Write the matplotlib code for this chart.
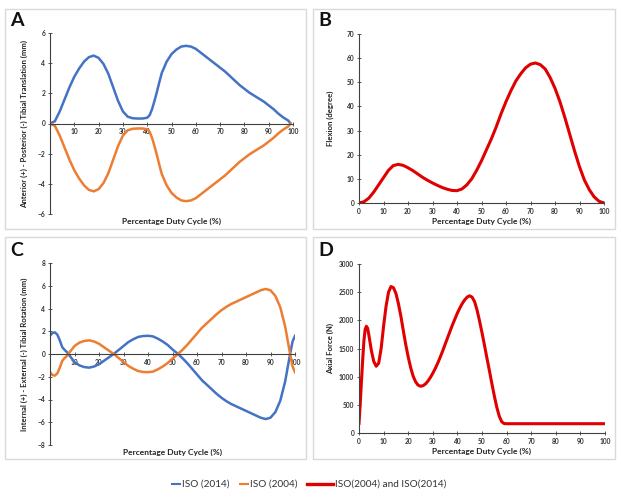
import matplotlib
matplotlib.use("Agg")
import matplotlib.pyplot as plt
from matplotlib.patches import Rectangle
from matplotlib.lines import Line2D

plt.rcParams['font.family'] = ['Lato', 'DejaVu Sans']

BLUE = '#4472C4'
ORANGE = '#ED7D31'
RED = '#E00000'

# ---------- Panel A: AP translation ----------
a_x = [0, 2, 4, 6, 8, 10, 12, 14, 16, 18, 20, 22, 24, 26, 28, 30, 32, 34, 36, 38, 40, 41, 42, 43, 44,
       45, 46, 48, 50, 52, 54, 56, 58, 60, 62, 64, 66, 68, 70, 72, 74, 76, 78, 80, 82, 84, 86, 88,
       90, 92, 94, 96, 97, 98, 99]
a_iso2014 = [0, 0.15, 0.8, 1.6, 2.4, 3.1, 3.65, 4.1, 4.4, 4.5, 4.35, 3.95, 3.3, 2.4, 1.5, 0.8, 0.45,
             0.35, 0.33, 0.33, 0.38, 0.55, 0.95, 1.5, 2.1, 2.75, 3.35, 4.1, 4.6, 4.9, 5.1, 5.15,
             5.1, 4.95, 4.7, 4.45, 4.2, 3.95, 3.7, 3.45, 3.15, 2.85, 2.55, 2.3, 2.05, 1.85, 1.65,
             1.45, 1.2, 0.95, 0.65, 0.4, 0.3, 0.2, 0]
a_iso2004 = [0, -0.15, -0.8, -1.6, -2.4, -3.1, -3.65, -4.1, -4.4, -4.5, -4.35, -3.95, -3.3, -2.4,
             -1.5, -0.8, -0.45, -0.35, -0.33, -0.33, -0.38, -0.55, -0.95, -1.5, -2.1, -2.75, -3.35,
             -4.1, -4.6, -4.9, -5.1, -5.15, -5.1, -4.95, -4.7, -4.45, -4.2, -3.95, -3.7, -3.45,
             -3.15, -2.85, -2.55, -2.3, -2.05, -1.85, -1.65, -1.45, -1.2, -0.95, -0.65, -0.4,
             -0.3, -0.2, 0]

# ---------- Panel B: flexion ----------
b_x = [0, 2, 4, 6, 8, 10, 12, 14, 16, 18, 20, 22, 24, 26, 28, 30, 32, 34, 36, 38, 40, 42, 44, 46,
       48, 50, 52, 54, 56, 58, 60, 62, 64, 66, 68, 70, 72, 74, 76, 78, 80, 82, 84, 86, 88, 90, 92,
       94, 96, 98, 100]
b_flexion = [0, 0.5, 2, 4.5, 7.5, 10.5, 13.5, 15.5, 16, 15.6, 14.6, 13.4, 12, 10.6, 9.4, 8.3, 7.3,
             6.4, 5.7, 5.2, 5.1, 5.8, 7.5, 10, 13.5, 17.5, 22, 26.5, 31.5, 37, 42, 46.5, 50.5, 53.5,
             56, 57.5, 58, 57.3, 55.5, 52, 47.5, 42, 35.5, 28.5, 21.5, 15, 9.5, 5.5, 2.5, 0.7, 0]

# ---------- Panel C: IE rotation ----------
c_x = [0, 1, 2, 3, 4, 5, 6, 7, 8, 10, 12, 14, 16, 18, 20, 22, 24, 26, 28, 30, 32, 34, 36, 38, 40,
       42, 44, 46, 48, 50, 52, 54, 56, 58, 60, 62, 64, 66, 68, 70, 72, 74, 76, 78, 80, 82, 84, 86,
       88, 90, 92, 94, 96, 97, 98, 99, 100]
c_iso2014 = [1.6, 1.85, 1.9, 1.7, 1.2, 0.6, 0.35, 0.15, -0.15, -0.7, -1.0, -1.15, -1.2, -1.1, -0.9,
             -0.6, -0.3, 0, 0.35, 0.7, 1.05, 1.3, 1.5, 1.58, 1.6, 1.55, 1.35, 1.1, 0.8, 0.4, 0.05,
             -0.35, -0.8, -1.3, -1.8, -2.3, -2.7, -3.1, -3.5, -3.85, -4.15, -4.4, -4.6, -4.8, -5.0,
             -5.2, -5.4, -5.6, -5.72, -5.6, -5.1, -4.1, -2.4, -1.2, 0, 1.1, 1.6]
c_iso2004 = [-1.6, -1.85, -1.9, -1.7, -1.2, -0.6, -0.35, -0.15, 0.15, 0.7, 1.0, 1.15, 1.2, 1.1, 0.9,
             0.6, 0.3, 0, -0.35, -0.7, -1.05, -1.3, -1.5, -1.58, -1.6, -1.55, -1.35, -1.1, -0.8,
             -0.4, -0.05, 0.35, 0.8, 1.3, 1.8, 2.3, 2.7, 3.1, 3.5, 3.85, 4.15, 4.4, 4.6, 4.8, 5.0,
             5.2, 5.4, 5.6, 5.72, 5.6, 5.1, 4.1, 2.4, 1.2, 0, -1.1, -1.6]

# ---------- Panel D: axial force ----------
d_x = [0, 0.5, 1, 1.5, 2, 2.5, 3, 3.5, 4, 5, 6, 7, 8, 9, 10, 11, 12, 13, 14, 15, 16, 17, 18, 19, 20,
       21, 22, 23, 24, 25, 26, 27, 28, 29, 30, 31, 32, 33, 34, 36, 38, 40, 41, 42, 43, 44, 45, 46,
       47, 48, 49, 50, 51, 52, 53, 54, 55, 56, 57, 58, 59, 60, 100]
d_force = [170, 520, 920, 1300, 1640, 1840, 1895, 1860, 1740, 1470, 1270, 1185, 1240, 1500, 1900,
           2250, 2500, 2600, 2580, 2480, 2300, 2080, 1820, 1570, 1350, 1160, 1010, 910, 850, 830,
           840, 870, 920, 985, 1060, 1145, 1240, 1345, 1455, 1690, 1920, 2130, 2220, 2300, 2365,
           2415, 2435, 2410, 2330, 2180, 1990, 1780, 1560, 1330, 1110, 880, 660, 460, 300, 200,
           168, 165, 165]

x_ticks_ac = [10, 20, 30, 40, 50, 60, 70, 80, 90, 100]
x_ticks_bd = [0, 10, 20, 30, 40, 50, 60, 70, 80, 90, 100]
a_yticks = [-6, -4, -2, 0, 2, 4, 6]
b_yticks = [0, 10, 20, 30, 40, 50, 60, 70]
c_yticks = [-8, -6, -4, -2, 0, 2, 4, 6, 8]
d_yticks = [0, 500, 1000, 1500, 2000, 2500, 3000]

W, H = 621, 499
fig = plt.figure(figsize=(W / 100, H / 100), dpi=100)

def fx(px):
    return px / W

def fy(py):
    return 1 - py / H

# panel frames
for (x0, y0, x1, y1) in [(5, 9, 306, 229), (313, 9, 615, 229), (5, 237, 306, 459), (313, 237, 615, 459)]:
    fig.add_artist(Rectangle((fx(x0), fy(y1)), fx(x1) - fx(x0), fy(y0) - fy(y1),
                             transform=fig.transFigure, fill=False, edgecolor='#D9D9D9', lw=1.0))

def make_ax(left, top, right, bottom):
    return fig.add_axes([fx(left), fy(bottom), fx(right) - fx(left), fy(top) - fy(bottom)])

def style(ax, zero_axis):
    for s in ['top', 'right']:
        ax.spines[s].set_visible(False)
    for s in ['left', 'bottom']:
        ax.spines[s].set_color('#404040')
        ax.spines[s].set_linewidth(0.8)
    if zero_axis:
        ax.spines['bottom'].set_position(('data', 0))
    ax.tick_params(axis='both', direction='inout', length=3, width=0.6, colors='#404040',
                   labelsize=4.8, pad=2)
    for lab in ax.get_xticklabels() + ax.get_yticklabels():
        lab.set_fontweight('bold')
        lab.set_color('#333333')

lab_kw = dict(fontsize=6, fontweight='bold', color='#222222')

# A
axA = make_ax(50, 33, 293, 214)
axA.plot(a_x, a_iso2014, color=BLUE, lw=1.8, solid_capstyle='round')
axA.plot(a_x, a_iso2004, color=ORANGE, lw=1.8, solid_capstyle='round')
axA.set_xlim(0, 100)
axA.set_ylim(-6, 6)
axA.set_xticks(x_ticks_ac)
axA.set_yticks(a_yticks)
style(axA, True)
axA.set_ylabel('Anterior (+) - Posterior (-) Tibial Translation (mm)', fontsize=5.6,
               fontweight='bold', color='#222222')
axA.yaxis.set_label_coords(-0.09, 0.5)
fig.text(fx(171.5), fy(221), 'Percentage Duty Cycle (%)', ha='center', va='center', **lab_kw)

# B
axB = make_ax(359, 34, 604, 203)
axB.plot(b_x, b_flexion, color=RED, lw=2.2)
axB.set_xlim(0, 100)
axB.set_ylim(0, 70)
axB.set_xticks(x_ticks_bd)
axB.set_yticks(b_yticks)
style(axB, False)
axB.set_ylabel('Flexion (degree)', fontsize=5.6, fontweight='bold', color='#222222')
axB.yaxis.set_label_coords(-0.10, 0.5)
fig.text(fx(481.5), fy(221), 'Percentage Duty Cycle (%)', ha='center', va='center', **lab_kw)

# C
axC = make_ax(50, 263, 295, 445)
axC.plot(c_x, c_iso2014, color=BLUE, lw=1.8)
axC.plot(c_x, c_iso2004, color=ORANGE, lw=1.8)
axC.set_xlim(0, 100)
axC.set_ylim(-8, 8)
axC.set_xticks(x_ticks_ac)
axC.set_yticks(c_yticks)
style(axC, True)
axC.set_ylabel('Internal (+) - External (-) Tibial Rotation (mm)', fontsize=5.6,
               fontweight='bold', color='#222222')
axC.yaxis.set_label_coords(-0.09, 0.5)
fig.text(fx(172.5), fy(452), 'Percentage Duty Cycle (%)', ha='center', va='center', **lab_kw)

# D
axD = make_ax(359, 264, 605, 433)
axD.plot(d_x, d_force, color=RED, lw=2.2)
axD.set_xlim(0, 100)
axD.set_ylim(0, 3000)
axD.set_xticks(x_ticks_bd)
axD.set_yticks(d_yticks)
style(axD, False)
axD.set_ylabel('Axial Force (N)', fontsize=5.6, fontweight='bold', color='#222222')
axD.yaxis.set_label_coords(-0.10, 0.5)
fig.text(fx(482), fy(451), 'Percentage Duty Cycle (%)', ha='center', va='center', **lab_kw)

# panel letters
for letter, (px, py) in zip('ABCD', [(10, 21), (318, 21), (10, 251), (318, 251)]):
    fig.text(fx(px), fy(py), letter, fontsize=14, fontweight='bold', ha='left', va='center',
             color='#111111')

# legend (manual)
ly = fy(484)
leg_items = [(172, 180, BLUE, 1.5, 'ISO (2014)'),
             (240, 248, ORANGE, 1.5, 'ISO (2004)'),
             (307, 333, RED, 2.4, 'ISO(2004) and ISO(2014)')]
for x0, x1, col, lw, txt in leg_items:
    fig.add_artist(Line2D([fx(x0), fx(x1)], [ly, ly], transform=fig.transFigure, color=col, lw=lw))
    fig.text(fx(x1 + 2), ly, txt, fontsize=7.2, ha='left', va='center', color='#333333')

fig.savefig('out.png', dpi=100)
